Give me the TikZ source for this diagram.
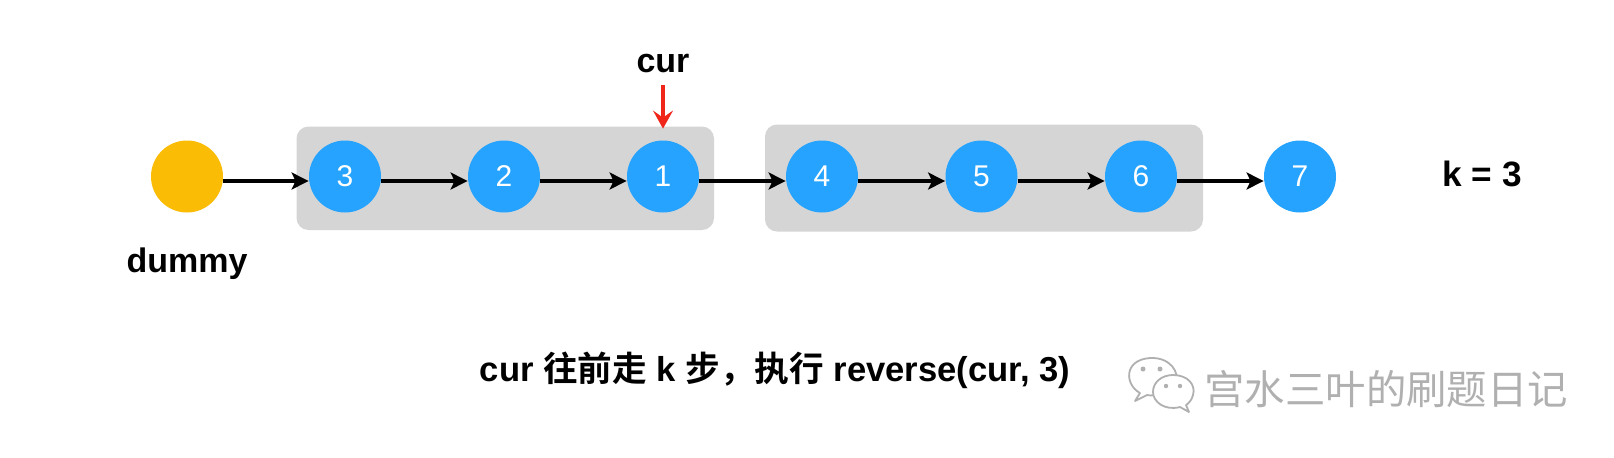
\documentclass[tikz,border=0pt]{standalone}
\usepackage{fontspec}
\setmainfont{Liberation Sans}
\newfontfamily\cjk{Noto Sans CJK SC}[BoldFont={* Bold}]
\usetikzlibrary{arrows.meta}
\definecolor{nodeblue}{HTML}{25A3FF}
\definecolor{nodegold}{HTML}{FBBC05}
\definecolor{boxgrey}{HTML}{D5D5D5}
\definecolor{markred}{HTML}{F0261B}
\definecolor{markgrey}{HTML}{B0B0B0}
\tikzset{
  x=0.5pt,y=-0.5pt,
  listnode/.style={circle,fill=nodeblue,draw=none,minimum size=36pt,inner sep=0pt,text=white,font=\fontsize{15}{15}\selectfont},
  dummynode/.style={circle,fill=nodegold,draw=none,minimum size=36pt,inner sep=0pt},
  groupbox/.style={fill=boxgrey,draw=none,rounded corners=6pt},
  nextlink/.style={draw=black,line width=2pt,-{Stealth[length=8.5pt,width=8.5pt,inset=2pt]}},
  curlink/.style={draw=markred,line width=2pt,-{Stealth[length=9pt,width=10pt,inset=3.5pt]},shorten <=5.8pt,shorten >=5.75pt},
  lab/.style={font=\bfseries\fontsize{17}{17}\selectfont,inner sep=0pt},
  wm/.style={text=markgrey,font=\cjk\fontsize{20.2}{20.2}\selectfont,inner sep=0pt},
  bubble/.style={draw=markgrey,fill=white,line width=.9pt,line join=round},
  bubbledot/.style={fill=markgrey,draw=none}
}
\begin{document}
\begin{tikzpicture}
\useasboundingbox (0,0) rectangle (1614,457);
\fill[white] (0,0) rectangle (1614,457);
\fill[groupbox] (296.5,126.5) rectangle (714,230);
\fill[groupbox] (765,124.5) rectangle (1203,231.5);
\node[dummynode] (d) at (187,176.5) {};
\node[listnode] (n3) at (345,176.5) {3};
\node[listnode] (n2) at (504,176.5) {2};
\node[listnode] (n1) at (663,176.5) {1};
\node[listnode] (n4) at (822,176.5) {4};
\node[listnode] (n5) at (981.5,176.5) {5};
\node[listnode] (n6) at (1141,176.5) {6};
\node[listnode] (n7) at (1300,176.5) {7};
\foreach \a/\b in {d/n3,n3/n2,n2/n1,n1/n4,n4/n5,n5/n6,n6/n7}
  \draw[nextlink] ([yshift=-2.25pt]\a.east) -- ([yshift=-2.25pt]\b.west);
\node[lab] (cur) at (663,64) {cur};
\draw[curlink] (cur.south) -- (n1.north);
\node[lab] (dummy) at (187,263.5) {dummy};
\node[lab,font=\bfseries\fontsize{17.6}{17.6}\selectfont] (k) at (1482,174) {k = 3};
\node[lab,font=\bfseries\fontsize{17.3}{17.3}\selectfont] (cap) at (775,370) {cur {\cjk\bfseries 往前走} k {\cjk\bfseries 步，执行} reverse(cur, 3)};
\node[wm,anchor=west] (wmt) at (1204,389) {宫水三叶的刷题日记};
% WeChat mark
\draw[bubble] (1140,393) .. controls (1125,385) and (1123,360) .. (1150,358)
  .. controls (1170,357) and (1180,372) .. (1176,384)
  .. controls (1170,392) and (1155,397) .. (1147,395) -- (1135,401) -- cycle;
\fill[bubbledot] (1143,369) circle (2.5) (1160,369) circle (2.5);
\draw[bubble] (1173,375) .. controls (1188,375) and (1196,385) .. (1193,395)
  .. controls (1192,400) and (1188,404) .. (1186,405) -- (1189,412) -- (1180,407)
  .. controls (1165,411) and (1153,402) .. (1153,392)
  .. controls (1153,382) and (1162,375) .. (1173,375) -- cycle;
\fill[bubbledot] (1166,386) circle (2.2) (1180,386) circle (2.2);
\end{tikzpicture}
\end{document}
